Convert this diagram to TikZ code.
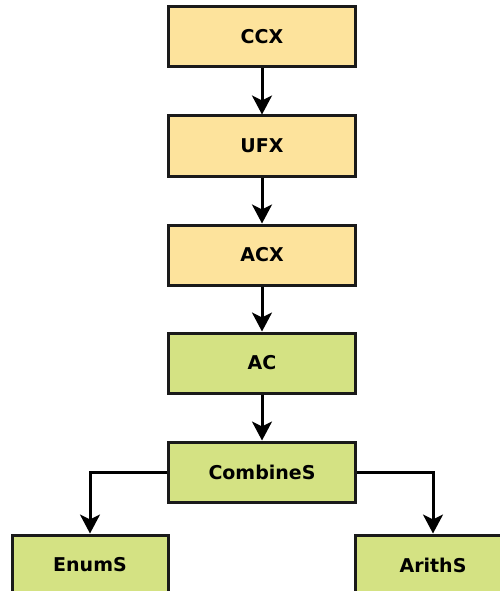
\documentclass[tikz,border=0pt]{standalone}
\usepackage{fontspec}
\setmainfont{DejaVu Sans}
\usetikzlibrary{arrows.meta}
\definecolor{boxyellow}{HTML}{FDE39C}
\definecolor{boxgreen}{HTML}{D4E283}
\definecolor{edge}{HTML}{1A1A1A}
\begin{document}
\begin{tikzpicture}[x=1pt,y=-1pt,
  box/.style={draw=edge,line width=3pt,minimum width=187pt,minimum height=60pt,inner sep=0pt,
    font=\fontsize{19}{22}\selectfont\bfseries},
  ybox/.style={box,fill=boxyellow},
  gbox/.style={box,fill=boxgreen},
  sbox/.style={gbox,minimum width=156pt},
  conn/.style={draw=black,line width=3pt,-{Stealth[length=19pt,width=20pt,inset=5pt]}}]
\useasboundingbox (0,0) rectangle (500,591);
\begin{scope}
\clip (0,0) rectangle (500,591);
\node[ybox] (ccx) at (262,37) {CCX};
\node[ybox] (ufx) at (262,146) {UFX};
\node[ybox] (acx) at (262,255) {ACX};
\node[gbox] (ac) at (262,363) {AC};
\node[gbox] (comb) at (262,472) {CombineS};
\node[sbox] (enum) at (90,565) {EnumS};
\node[sbox] (arith) at (433,565) {ArithS};
\draw[conn] (ccx) -- (ufx);
\draw[conn] (ufx) -- (acx);
\draw[conn] (acx) -- (ac);
\draw[conn] (ac) -- (comb);
\draw[conn] (comb.west) -| (enum.north);
\draw[conn] (comb.east) -| (arith.north);
\end{scope}
\end{tikzpicture}
\end{document}
